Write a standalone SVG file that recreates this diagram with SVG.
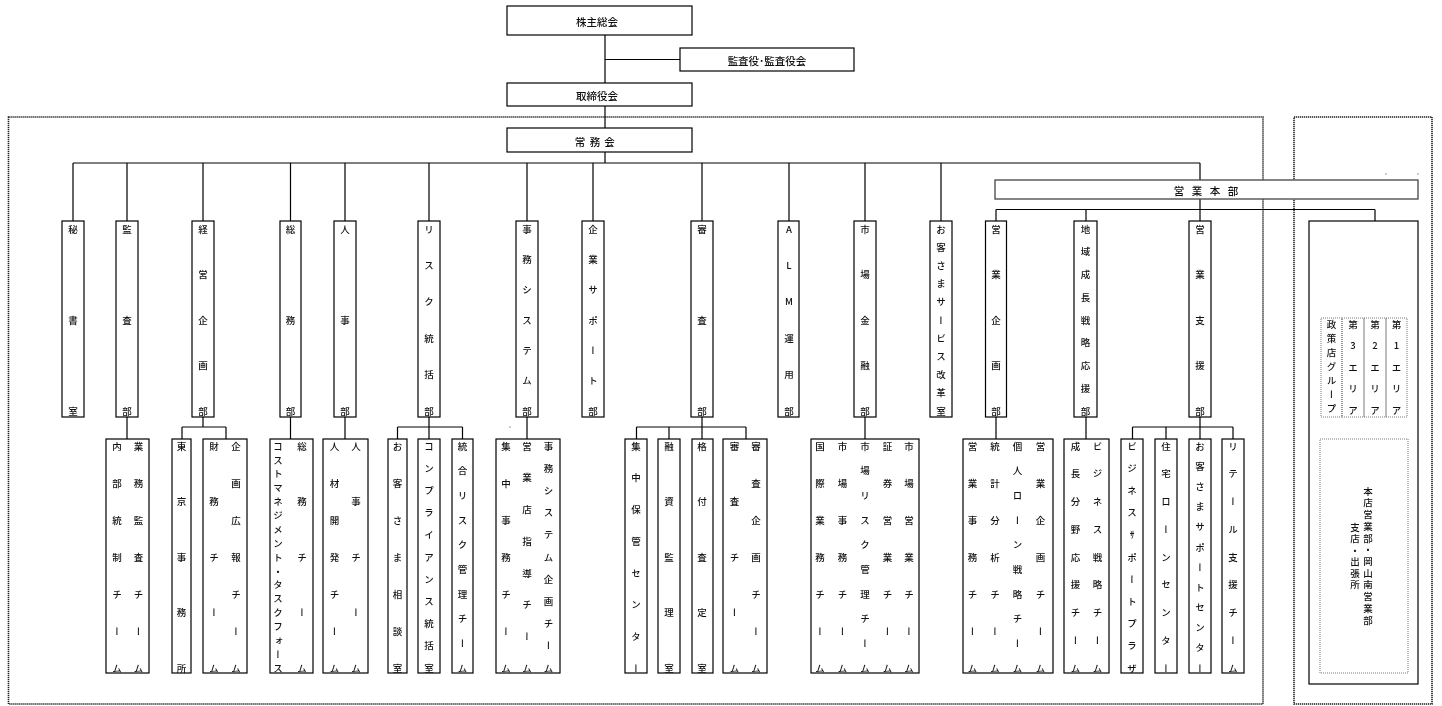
<svg xmlns="http://www.w3.org/2000/svg" width="1442" height="706" viewBox="0 0 1442 706">
<style>
.b{fill:#fff;stroke:#000;stroke-width:1.2}
.c{fill:none;stroke:#000;stroke-width:1.2}
.fr{fill:none;stroke:#222;stroke-width:1.6;stroke-dasharray:1.3 0.7}
.dt{fill:none;stroke:#555;stroke-width:0.8;stroke-dasharray:1 1}
.t{font-family:"Noto Sans CJK JP","Noto Sans CJK SC",sans-serif;font-size:9.5px;font-weight:500;fill:#111}
.h{text-anchor:middle;dominant-baseline:central;font-size:10.5px}
.v{writing-mode:vertical-rl;text-orientation:upright;text-anchor:middle}
</style>
<defs>
<filter id="gs" x="0" y="0" width="1442" height="706" filterUnits="userSpaceOnUse"><feOffset dx="0" dy="0"/></filter>
</defs>
<rect width="1442" height="706" fill="#fff"/>
<g id="diagram" filter="url(#gs)">
<g id="frames">
<rect class="fr" x="8.5" y="117" width="1254.5" height="587"/>
<rect class="fr" x="1294" y="117" width="138" height="587"/>
</g>
<g id="connectors">
<path class="c" d="M605 35V83M605 106V128M605 59.5H680M605 152V163M73 163H1200"/>
<path class="c" d="M73 163V221M127 163V221M203 163V221M290.5 163V221M345 163V221M429 163V221M527 163V221M593 163V221M702 163V221M789 163V221M865 163V221M941 163V221M1200 163V180"/>
<path class="c" d="M1200 199V209.5M996 209.5H1375M996 209.5V221M1086 209.5V221M1200 209.5V221M1375 209.5V221"/>
<path class="c" d="M1331 221V318M1353 221V318M1375 221V318M1396.5 221V318"/>
<path class="c" d="M127 417V439M203 417V427M182 427H226M182 427V439M226 427V439M290.5 417V439M345 417V439M429 417V427M397.5 427H462.5M397.5 427V439M429 427V439M462.5 427V439M527 417V439M702 417V427M636.5 427H746M636.5 427V439M669 427V439M702 427V439M746 427V439M865 417V439M996 417V439M1086 417V439M1200 417V427M1132.5 427H1233M1132.5 427V439M1166 427V439M1200 427V439M1233 427V439"/>
<rect x="1385.5" y="173.5" width="1" height="1" fill="#333"/>
<rect x="1417.5" y="173.5" width="1" height="1" fill="#333"/>
<rect x="509.5" y="426.5" width="1" height="1" fill="#333"/>
</g>
<g id="kabunushi"><rect class="b" x="507" y="6" width="185" height="29"/><text class="t h" x="597" y="21">株主総会</text></g>
<g id="kansayaku"><rect class="b" x="680" y="48" width="174" height="23"/><text class="t h" x="767" y="60">監査役･監査役会</text></g>
<g id="torishimariyaku"><rect class="b" x="507" y="83" width="185" height="23"/><text class="t h" x="597" y="95">取締役会</text></g>
<g id="jomukai"><rect class="b" x="507" y="128" width="185" height="24"/><text class="t h" x="580 595 609.5" y="141">常務会</text></g>
<g id="eigyohonbu"><rect x="995" y="180" width="423" height="19" fill="#fff" stroke="#444" stroke-width="1.3"/><text class="t h" x="1179 1197 1215 1233" y="190">営業本部</text></g>

<g id="hisho"><rect class="b" x="62" y="221" width="22" height="196"/><text class="t v" x="73" y="229 320 411">秘書室</text></g>
<g id="kansa"><rect class="b" x="116" y="221" width="22" height="196"/><text class="t v" x="127" y="229 320 411">監査部</text></g>
<g id="keiei"><rect class="b" x="192" y="221" width="22" height="196"/><text class="t v" x="203" y="229 274.5 320 365.5 411">経営企画部</text></g>
<g id="somu"><rect class="b" x="280" y="221" width="21" height="196"/><text class="t v" x="290.5" y="229 320 411">総務部</text></g>
<g id="jinji"><rect class="b" x="334" y="221" width="22" height="196"/><text class="t v" x="345" y="229 320 411">人事部</text></g>
<g id="risk"><rect class="b" x="418" y="221" width="22" height="196"/><text class="t v" x="429" y="229 265.4 301.8 338.2 374.6 411">リスク統括部</text></g>
<g id="jimusys"><rect class="b" x="516" y="221" width="22" height="196"/><text class="t v" x="527" y="229 259.3 289.7 320 350.3 380.7 411">事務システム部</text></g>
<g id="kigyo"><rect class="b" x="582" y="221" width="22" height="196"/><text class="t v" x="593" y="229 259.3 289.7 320 350.3 380.7 411">企業サポート部</text></g>
<g id="shinsa"><rect class="b" x="691" y="221" width="22" height="196"/><text class="t v" x="702" y="229 320 411">審査部</text></g>
<g id="alm"><rect class="b" x="778" y="221" width="21" height="196"/><text class="t v" x="789" y="229 265.4 301.8 338.2 374.6 411">ALM運用部</text></g>
<g id="shijo"><rect class="b" x="854" y="221" width="22" height="196"/><text class="t v" x="865" y="229 274.5 320 365.5 411">市場金融部</text></g>
<g id="cs"><rect class="b" x="930" y="221" width="22" height="196"/><text class="t v" x="941" y="229 247.2 265.4 283.6 301.8 320 338.2 356.4 374.6 392.8 411">お客さまサービス改革室</text></g>
<g id="eigyokikaku"><rect class="b" x="985.5" y="221" width="21" height="196"/><text class="t v" x="996" y="229 274.5 320 365.5 411">営業企画部</text></g>
<g id="chiiki"><rect class="b" x="1074" y="221" width="23" height="196"/><text class="t v" x="1085.5" y="229 251.8 274.5 297.3 320 342.8 365.5 388.3 411">地域成長戦略応援部</text></g>
<g id="eigyoshien"><rect class="b" x="1189" y="221" width="22" height="196"/><text class="t v" x="1200" y="229 274.5 320 365.5 411">営業支援部</text></g>

<g id="area-group">
<rect class="b" x="1309" y="221" width="109" height="463"/>
<rect class="dt" x="1321" y="318" width="21" height="99"/>
<rect class="dt" x="1342" y="318" width="22" height="99"/>
<rect class="dt" x="1364" y="318" width="22" height="99"/>
<rect class="dt" x="1386" y="318" width="21" height="99"/>
<text class="t v" x="1331.5" y="324 338 352 366 380 394 408">政策店グループ</text>
<text class="t v" x="1353" y="324 345.5 367 388.5 410">第3エリア</text>
<text class="t v" x="1375" y="324 345.5 367 388.5 410">第2エリア</text>
<text class="t v" x="1396.5" y="324 345.5 367 388.5 410">第1エリア</text>
<rect class="dt" x="1320" y="439" width="88" height="234"/>
<text class="t v" x="1368" y="491 502.7 514.4 526.2 537.9 549.6 561.3 573 584.8 596.5 608.2 620">本店営業部・岡山南営業部</text>
<text class="t v" x="1355" y="527 538.5 550 561.5 573 584.5">支店・出張所</text>
</g>

<g id="kansa-teams"><rect class="b" x="106" y="439" width="43" height="234"/>
<text class="t v" x="117" y="446 483 520 557 594 631 668">内部統制チーム</text>
<text class="t v" x="138.5" y="446 483 520 557 594 631 668">業務監査チーム</text></g>
<g id="tokyo"><rect class="b" x="172" y="439" width="19" height="234"/>
<text class="t v" x="181.5" y="446 501.5 557 612.5 668">東京事務所</text></g>
<g id="keiei-teams"><rect class="b" x="203" y="439" width="44" height="234"/>
<text class="t v" x="214" y="446 501.5 557 612.5 668">財務チーム</text>
<text class="t v" x="236" y="446 483 520 557 594 631 668">企画広報チーム</text></g>
<g id="somu-teams"><rect class="b" x="270" y="439" width="43" height="234"/>
<text class="t v" x="278" y="446 459.9 473.8 487.6 501.5 515.4 529.3 543.1 557 570.9 584.8 598.6 612.5 626.4 640.3 654.1 668">コストマネジメント・タスクフォース</text>
<text class="t v" x="302" y="446 501.5 557 612.5 668">総務チーム</text></g>
<g id="jinji-teams"><rect class="b" x="323" y="439" width="45" height="234"/>
<text class="t v" x="334.5" y="446 483 520 557 594 631 668">人材開発チーム</text>
<text class="t v" x="356" y="446 501.5 557 612.5 668">人事チーム</text></g>
<g id="sodan"><rect class="b" x="388" y="439" width="19" height="234"/>
<text class="t v" x="397.5" y="446 483 520 557 594 631 668">お客さま相談室</text></g>
<g id="compliance"><rect class="b" x="418" y="439" width="22" height="234"/>
<text class="t v" x="429" y="446 468.2 490.4 512.6 534.8 557 579.2 601.4 623.6 645.8 668">コンプライアンス統括室</text></g>
<g id="togorisk"><rect class="b" x="452" y="439" width="21" height="234"/>
<text class="t v" x="462.5" y="446 470.7 495.3 520 544.7 569.3 594 618.7 643.3 668">統合リスク管理チーム</text></g>
<g id="jimu-teams"><rect class="b" x="496" y="439" width="64" height="234"/>
<text class="t v" x="506" y="446 483 520 557 594 631 668">集中事務チーム</text>
<text class="t v" x="527" y="446 477.7 509.4 541.1 572.9 604.6 636.3 668">営業店指導チーム</text>
<text class="t v" x="548.5" y="446 468.2 490.4 512.6 534.8 557 579.2 601.4 623.6 645.8 668">事務システム企画チーム</text></g>
<g id="hokan"><rect class="b" x="625" y="439" width="22" height="234"/>
<text class="t v" x="636" y="446 477.7 509.4 541.1 572.9 604.6 636.3 668">集中保管センター</text></g>
<g id="yushi"><rect class="b" x="658" y="439" width="22" height="234"/>
<text class="t v" x="669" y="446 501.5 557 612.5 668">融資監理室</text></g>
<g id="kakuzuke"><rect class="b" x="692" y="439" width="21" height="234"/>
<text class="t v" x="702" y="446 501.5 557 612.5 668">格付査定室</text></g>
<g id="shinsa-teams"><rect class="b" x="723" y="439" width="44" height="234"/>
<text class="t v" x="734.5" y="446 501.5 557 612.5 668">審査チーム</text>
<text class="t v" x="756" y="446 483 520 557 594 631 668">審査企画チーム</text></g>
<g id="shijo-teams"><rect class="b" x="811" y="439" width="108" height="234"/>
<text class="t v" x="820" y="446 483 520 557 594 631 668">国際業務チーム</text>
<text class="t v" x="842.5" y="446 483 520 557 594 631 668">市場事務チーム</text>
<text class="t v" x="865" y="446 470.7 495.3 520 544.7 569.3 594 618.7 643.3 668">市場リスク管理チーム</text>
<text class="t v" x="887.5" y="446 483 520 557 594 631 668">証券営業チーム</text>
<text class="t v" x="909" y="446 483 520 557 594 631 668">市場営業チーム</text></g>
<g id="eigyokikaku-teams"><rect class="b" x="963" y="439" width="90" height="234"/>
<text class="t v" x="972.5" y="446 483 520 557 594 631 668">営業事務チーム</text>
<text class="t v" x="995" y="446 483 520 557 594 631 668">統計分析チーム</text>
<text class="t v" x="1017.5" y="446 470.7 495.3 520 544.7 569.3 594 618.7 643.3 668">個人ローン戦略チーム</text>
<text class="t v" x="1040.5" y="446 483 520 557 594 631 668">営業企画チーム</text></g>
<g id="chiiki-teams"><rect class="b" x="1064" y="439" width="45" height="234"/>
<text class="t v" x="1075.5" y="446 473.8 501.5 529.3 557 584.8 612.5 640.3 668">成長分野応援チーム</text>
<text class="t v" x="1097.5" y="446 473.8 501.5 529.3 557 584.8 612.5 640.3 668">ビジネス戦略チーム</text></g>
<g id="bizplaza"><rect class="b" x="1121" y="439" width="22" height="234"/>
<text class="t v" x="1132" y="446 468.2 490.4 512.6 534.8 557 579.2 601.4 623.6 645.8 668">ビジネスｻポートプラザ</text></g>
<g id="jutaku"><rect class="b" x="1155" y="439" width="22" height="234"/>
<text class="t v" x="1166" y="446 473.8 501.5 529.3 557 584.8 612.5 640.3 668">住宅ローンセンター</text></g>
<g id="cscenter"><rect class="b" x="1189" y="439" width="22" height="234"/>
<text class="t v" x="1200" y="446 466.2 486.4 506.5 526.7 546.9 567.1 587.3 607.5 627.6 647.8 668">お客さまサポートセンター</text></g>
<g id="retail"><rect class="b" x="1222" y="439" width="22" height="234"/>
<text class="t v" x="1233" y="446 473.8 501.5 529.3 557 584.8 612.5 640.3 668">リテール支援チーム</text></g>
</g>
</svg>
